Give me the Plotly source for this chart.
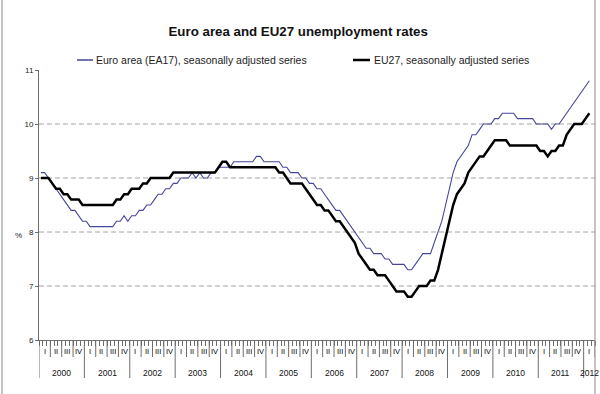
import numpy as np
import plotly.graph_objects as go

# ---------------- data (monthly, Jan 2000 - Feb 2012) ----------------
years = [str(y) for y in range(2000, 2013)]
quarters = ["I", "II", "III", "IV"]

ea17 = [
    9.1, 9.1, 9.0, 8.9, 8.8, 8.7, 8.6, 8.5, 8.4, 8.4, 8.3, 8.2,      # 2000
    8.2, 8.1, 8.1, 8.1, 8.1, 8.1, 8.1, 8.1, 8.2, 8.2, 8.3, 8.2,      # 2001
    8.3, 8.3, 8.4, 8.4, 8.5, 8.5, 8.6, 8.7, 8.7, 8.8, 8.8, 8.9,      # 2002
    8.9, 9.0, 9.0, 9.0, 9.1, 9.0, 9.1, 9.0, 9.0, 9.1, 9.1, 9.2,      # 2003
    9.2, 9.2, 9.2, 9.3, 9.3, 9.3, 9.3, 9.3, 9.3, 9.4, 9.4, 9.3,      # 2004
    9.3, 9.3, 9.3, 9.3, 9.2, 9.2, 9.1, 9.1, 9.1, 9.0, 9.0, 8.9,      # 2005
    8.9, 8.8, 8.8, 8.7, 8.6, 8.5, 8.4, 8.4, 8.3, 8.2, 8.1, 8.0,      # 2006
    7.9, 7.8, 7.7, 7.7, 7.6, 7.6, 7.6, 7.5, 7.5, 7.4, 7.4, 7.4,      # 2007
    7.4, 7.3, 7.3, 7.4, 7.5, 7.6, 7.6, 7.6, 7.8, 8.0, 8.2, 8.5,      # 2008
    8.8, 9.1, 9.3, 9.4, 9.5, 9.6, 9.8, 9.8, 9.9, 10.0, 10.0, 10.0,   # 2009
    10.1, 10.1, 10.2, 10.2, 10.2, 10.2, 10.1, 10.1, 10.1, 10.1, 10.1, 10.0,  # 2010
    10.0, 10.0, 10.0, 9.9, 10.0, 10.0, 10.1, 10.2, 10.3, 10.4, 10.5, 10.6,   # 2011
    10.7, 10.8,                                                       # 2012
]

eu27 = [
    9.0, 9.0, 9.0, 8.9, 8.8, 8.8, 8.7, 8.7, 8.6, 8.6, 8.6, 8.5,      # 2000
    8.5, 8.5, 8.5, 8.5, 8.5, 8.5, 8.5, 8.5, 8.6, 8.6, 8.7, 8.7,      # 2001
    8.8, 8.8, 8.8, 8.9, 8.9, 9.0, 9.0, 9.0, 9.0, 9.0, 9.0, 9.1,      # 2002
    9.1, 9.1, 9.1, 9.1, 9.1, 9.1, 9.1, 9.1, 9.1, 9.1, 9.1, 9.2,      # 2003
    9.3, 9.3, 9.2, 9.2, 9.2, 9.2, 9.2, 9.2, 9.2, 9.2, 9.2, 9.2,      # 2004
    9.2, 9.2, 9.2, 9.1, 9.1, 9.0, 8.9, 8.9, 8.9, 8.9, 8.8, 8.7,      # 2005
    8.6, 8.5, 8.5, 8.4, 8.4, 8.3, 8.2, 8.2, 8.1, 8.0, 7.9, 7.8,      # 2006
    7.6, 7.5, 7.4, 7.3, 7.3, 7.2, 7.2, 7.2, 7.1, 7.0, 6.9, 6.9,      # 2007
    6.9, 6.8, 6.8, 6.9, 7.0, 7.0, 7.0, 7.1, 7.1, 7.3, 7.6, 7.9,      # 2008
    8.2, 8.5, 8.7, 8.8, 8.9, 9.1, 9.2, 9.3, 9.4, 9.4, 9.5, 9.6,      # 2009
    9.7, 9.7, 9.7, 9.7, 9.6, 9.6, 9.6, 9.6, 9.6, 9.6, 9.6, 9.6,      # 2010
    9.5, 9.5, 9.4, 9.5, 9.5, 9.6, 9.6, 9.8, 9.9, 10.0, 10.0, 10.0,   # 2011
    10.1, 10.2,                                                       # 2012
]

y_ticks = [6, 7, 8, 9, 10, 11]
grid_values = [7, 8, 9, 10]

series_names = ["Euro area (EA17), seasonally adjusted series",
                "EU27, seasonally adjusted series"]

# ---------------- figure ----------------
n = len(ea17)
x = np.arange(n) + 0.5          # month centres
n_months = 12 * 12 + 3          # axis spans Jan 2000 .. Mar 2012

BLUE = "#45459c"
BLACK = "#000000"
AXIS = "#6e6e6e"
FONT = "Arial, Liberation Sans, sans-serif"

fig = go.Figure()
fig.add_trace(go.Scatter(x=x, y=ea17, mode="lines", name=series_names[0],
                         line=dict(color=BLUE, width=1.1), showlegend=False))
fig.add_trace(go.Scatter(x=x, y=eu27, mode="lines", name=series_names[1],
                         line=dict(color=BLACK, width=2.5), showlegend=False))

shapes = []
# dashed horizontal gridlines
for g in grid_values:
    shapes.append(dict(type="line", xref="paper", yref="y", x0=0, x1=1, y0=g, y1=g,
                       line=dict(color="#a6a6a6", width=1, dash="5px,3px"), layer="below"))

# quarter separators and year separators under the axis
QBOT = -17 / 270
YBOT = -38 / 270
for k in range(0, n_months // 3 + 1):
    xv = 3 * k
    if xv % 12 == 0:
        shapes.append(dict(type="line", xref="x", yref="paper", x0=xv, x1=xv, y0=0, y1=YBOT,
                           line=dict(color=AXIS, width=1)))
    else:
        shapes.append(dict(type="line", xref="x", yref="paper", x0=xv, x1=xv, y0=0, y1=QBOT,
                           line=dict(color=AXIS, width=1)))

# outer frame (left & right vertical borders)
shapes.append(dict(type="line", xref="paper", yref="paper", x0=(2 - 39) / 556, x1=(2 - 39) / 556,
                   y0=-54 / 270, y1=1 + 70 / 270, line=dict(color="#8a8a8a", width=1)))
shapes.append(dict(type="line", xref="paper", yref="paper", x0=1.0, x1=1.0,
                   y0=-54 / 270, y1=1 + 70 / 270, line=dict(color="#8a8a8a", width=1)))

# custom legend lines
shapes.append(dict(type="line", xref="paper", yref="paper",
                   x0=(77 - 39) / 556, x1=(93 - 39) / 556, y0=(340 - 60) / 270, y1=(340 - 60) / 270,
                   line=dict(color=BLUE, width=1.5)))
shapes.append(dict(type="line", xref="paper", yref="paper",
                   x0=(353 - 39) / 556, x1=(370 - 39) / 556, y0=(340 - 60) / 270, y1=(340 - 60) / 270,
                   line=dict(color=BLACK, width=2.5)))

annotations = []
# quarter labels
for k in range(0, n_months // 3):
    annotations.append(dict(x=3 * k + 1.5, y=-11 / 270, xref="x", yref="paper",
                            text=quarters[k % 4], showarrow=False,
                            font=dict(size=7.5, color="#000", family=FONT),
                            xanchor="center", yanchor="middle"))
# year labels
for j, yr in enumerate(years):
    start = 12 * j
    end = min(12 * j + 12, n_months)
    annotations.append(dict(x=(start + end) / 2, y=-33 / 270, xref="x", yref="paper",
                            text=yr, showarrow=False,
                            font=dict(size=8.5, color="#111", family=FONT),
                            xanchor="center", yanchor="middle"))
# legend texts
annotations.append(dict(x=(94 - 39) / 556, y=(340 - 60) / 270, xref="paper", yref="paper",
                        text=series_names[0], showarrow=False, xanchor="left", yanchor="middle",
                        font=dict(size=10.5, color="#222", family=FONT)))
annotations.append(dict(x=(372 - 39) / 556, y=(340 - 60) / 270, xref="paper", yref="paper",
                        text=series_names[1], showarrow=False, xanchor="left", yanchor="middle",
                        font=dict(size=10.5, color="#222", family=FONT)))
# % label
annotations.append(dict(x=(18 - 39) / 556, y=(340 - 235) / 270, xref="paper", yref="paper",
                        text="%", showarrow=False, xanchor="center", yanchor="middle",
                        font=dict(size=8, color="#222", family=FONT)))

fig.update_layout(
    width=600, height=394,
    margin=dict(l=39, r=5, t=70, b=54),
    paper_bgcolor="white", plot_bgcolor="white",
    title=dict(text="<b>Euro area and EU27 unemployment rates</b>", x=0.497, xanchor="center",
               y=1 - 31 / 394, yanchor="middle", font=dict(size=13.3, color="#111", family=FONT)),
    xaxis=dict(range=[0, n_months], showgrid=False, zeroline=False, showline=True,
               linecolor=AXIS, linewidth=1, tickmode="array", tickvals=list(range(0, n_months + 1)),
               ticks="outside", ticklen=5, tickcolor=AXIS, tickwidth=1, showticklabels=False),
    yaxis=dict(range=[6, 11], showgrid=False, zeroline=False, showline=True,
               linecolor=AXIS, linewidth=1, tickmode="array", tickvals=y_ticks,
               ticks="outside", ticklen=3, tickcolor=AXIS,
               tickfont=dict(size=8, color="#222", family=FONT)),
    shapes=shapes, annotations=annotations, showlegend=False,
)

fig.write_html("out.html", config={"displayModeBar": False},
               post_script="document.body.style.margin='0';document.body.style.overflow='hidden';")
